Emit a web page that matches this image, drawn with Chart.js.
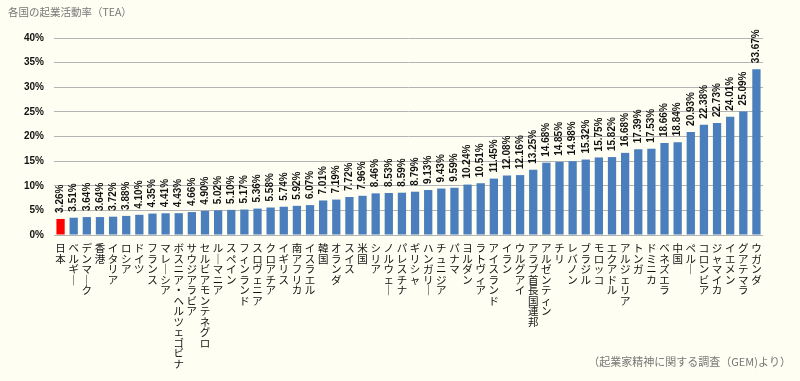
<!DOCTYPE html>
<html><head><meta charset="utf-8">
<script src="https://cdn.jsdelivr.net/npm/chart.js@4.4.0/dist/chart.umd.min.js"></script>
<style>
html,body{margin:0;padding:0;background:#fefef2;}
#wrap{width:800px;height:381px;position:relative;}
</style></head>
<body><div id="wrap"><canvas id="c" width="800" height="381"></canvas></div>
<script>
const countries = ["日本","ベルギー","デンマーク","香港","イタリア","ロシア","ドイツ","フランス","マレーシア","ボスニア・ヘルツェゴビナ","サウジアラビア","セルビアモンテネグロ","ルーマニア","スペイン","フィンランド","スロヴェニア","クロアチア","イギリス","南アフリカ","イスラエル","韓国","オランダ","スイス","米国","シリア","ノルウェー","パレスチナ","ギリシャ","ハンガリー","チュニジア","パナマ","ヨルダン","ラトヴィア","アイスランド","イラン","ウルグアイ","アラブ首長国連邦","アルゼンティン","チリ","レバノン","ブラジル","モロッコ","エクアドル","アルジェリア","トンガ","ドミニカ","ベネズエラ","中国","ペルー","コロンビア","ジャマイカ","イエメン","グアテマラ","ウガンダ"];
const teaValues = [3.26,3.51,3.64,3.64,3.72,3.88,4.10,4.35,4.41,4.43,4.66,4.90,5.02,5.10,5.17,5.36,5.58,5.74,5.92,6.07,7.01,7.19,7.72,7.96,8.46,8.53,8.59,8.79,9.13,9.43,9.59,10.24,10.51,11.45,12.08,12.16,13.25,14.68,14.85,14.98,15.32,15.75,15.82,16.68,17.39,17.53,18.66,18.84,20.93,22.38,22.73,24.01,25.09,33.67];
const highlight = "日本";
const yTicks = [0,5,10,15,20,25,30,35,40];
const titleText = "各国の起業活動率（TEA）";
const sourceText = "（起業家精神に関する調査（GEM)より）";

const barColors = countries.map(c => c === highlight ? "#ff0000" : "#4a7ebd");

function vertical(s){
  return Array.from(s).map(ch => ch === "ー" ? "｜" : ch);
}

const extraText = {
  id: "extraText",
  afterDatasetsDraw(chart){
    const ctx = chart.ctx;
    const meta = chart.getDatasetMeta(0);
    ctx.save();
    ctx.font = 'bold 10px "Liberation Sans Narrow", "Liberation Sans", sans-serif';
    ctx.fillStyle = "#111";
    ctx.textAlign = "left";
    ctx.textBaseline = "middle";
    meta.data.forEach((bar, i) => {
      ctx.save();
      ctx.translate(bar.x, bar.y - 6);
      ctx.rotate(-Math.PI/2);
      ctx.fillText(teaValues[i].toFixed(2) + "%", 0, 0);
      ctx.restore();
    });
    ctx.restore();
  },
  afterDraw(chart){
    const ctx = chart.ctx;
    ctx.save();
    ctx.fillStyle = "#777";
    ctx.textBaseline = "middle";
    ctx.font = '10.5px "Noto Sans CJK JP"';
    ctx.textAlign = "left";
    ctx.fillText(titleText, 8, 12);
    ctx.font = '11px "Noto Sans CJK JP"';
    ctx.textAlign = "right";
    ctx.fillText(sourceText, 791, 362);
    ctx.restore();
  }
};

new Chart(document.getElementById("c"), {
  type: "bar",
  data: {
    labels: countries,
    datasets: [{
      data: teaValues,
      backgroundColor: barColors,
      borderWidth: 0,
      barPercentage: 0.63,
      categoryPercentage: 1.0
    }]
  },
  options: {
    responsive: false,
    animation: false,
    devicePixelRatio: 1,
    layout: { padding: { top: 38, right: 37, bottom: 0, left: 0 } },
    plugins: { legend: { display: false }, tooltip: { enabled: false }, title: { display: false } },
    scales: {
      x: {
        grid: { display: false, drawTicks: false },
        border: { display: false },
        afterFit(scale){ scale.height = 146; },
        ticks: {
          autoSkip: false,
          maxRotation: 0,
          minRotation: 0,
          padding: 8,
          color: "#111",
          font: { family: '"Noto Sans CJK JP"', size: 10.5, lineHeight: 1.0 },
          callback(v, i){ return vertical(countries[i]); }
        }
      },
      y: {
        min: 0, max: 40,
        afterFit(scale){ scale.width = 54; },
        afterBuildTicks(scale){ scale.ticks = yTicks.map(v => ({ value: v })); },
        grid: { color: "#b4b4b4", lineWidth: 1, drawTicks: false },
        border: { display: false },
        ticks: {
          padding: 10,
          color: "#111",
          font: { family: '"Liberation Sans"', size: 10, weight: "bold" },
          callback(v){ return v + "%"; }
        }
      }
    }
  },
  plugins: [extraText]
});
</script></body></html>
